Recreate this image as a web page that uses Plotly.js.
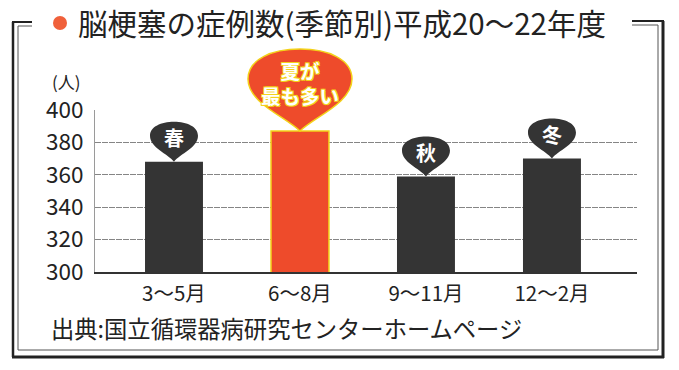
<!DOCTYPE html>
<html><head><meta charset="utf-8">
<script src="https://cdn.plot.ly/plotly-3.0.1.min.js"></script>
<style>html,body{margin:0;padding:0;background:#fff}#chart{width:679px;height:370px}</style>
</head><body><div id="chart"></div>
<script>
const categories = ['3～5月', '6～8月', '9～11月', '12～2月'];
const cases = [368, 387, 359, 370];
const seasons = ['春', '夏', '秋', '冬'];
const yTicks = [300, 320, 340, 360, 380, 400];
const titleText = '脳梗塞の症例数(季節別)平成20～22年度';
const unitLabel = '(人)';
const sourceText = '出典:国立循環器病研究センターホームページ';
const highlightText = '夏が<br>最も多い';

const FONT = '"Noto Sans CJK JP", "Noto Sans", sans-serif';
const DARK = '#343434', ORANGE = '#ee4b2b', YELLOW = '#f3d21a';
const L = 95, R = 637, T = 110, B = 272;
const X_RANGE = [-0.627, 3.675], Y_RANGE = [300, 400];
const px = x => (x - L) / (R - L);
const py = y => (B - y) / (B - T);
const xFrac = i => (i - X_RANGE[0]) / (X_RANGE[1] - X_RANGE[0]);
const yFrac = v => (v - Y_RANGE[0]) / (Y_RANGE[1] - Y_RANGE[0]);

const hi = cases.indexOf(Math.max(...cases));
const barColors = cases.map((v, i) => i === hi ? ORANGE : DARK);

const shapes = [];
function fl(x0, y0, x1, y1, w, c) {
  shapes.push({type: 'line', xref: 'paper', yref: 'paper', x0: px(x0), y0: py(y0), x1: px(x1), y1: py(y1),
    line: {color: c || '#222', width: w}});
}
// frame
fl(13, 22, 13, 357, 2.5); fl(18, 26, 18, 350, 1, '#555');
fl(12, 22, 32, 22, 2); fl(18, 26, 32, 26, 1, '#555');
fl(632, 21, 664, 21, 2); fl(632, 25, 658, 25, 1, '#555');
fl(663, 21, 663, 358, 3); fl(658, 25, 658, 350, 1, '#555');
fl(18, 350, 658, 350, 1, '#555'); fl(12, 357, 664, 357, 3);
// title dot
shapes.push({type: 'circle', xref: 'paper', yref: 'paper', x0: px(53), x1: px(67), y0: py(16), y1: py(30),
  fillcolor: '#f0603a', line: {width: 0}});

// bubbles (anchored at each bar top, drawn in pixels)
const smallPath = 'M0,0 C-6,8 -24,14 -24,26 C-24,35 -13,40 0,40 C13,40 24,35 24,26 C24,14 6,8 0,0 Z';
const bigPath = 'M0,0 C-14,14 -52,28 -52,52 C-52,72 -28,82 0,82 C28,82 52,72 52,52 C52,28 14,14 0,0 Z';
categories.forEach((c, i) => {
  shapes.push({type: 'path', xref: 'paper', yref: 'paper', xsizemode: 'pixel', ysizemode: 'pixel',
    xanchor: xFrac(i), yanchor: yFrac(cases[i]), path: i === hi ? bigPath : smallPath,
    fillcolor: i === hi ? ORANGE : DARK, line: {color: i === hi ? YELLOW : DARK, width: i === hi ? 1.5 : 0}, layer: 'above'});
});

const annotations = [];
const glow = `1px 1px 0 ${YELLOW}, -1px -1px 0 ${YELLOW}, 1px -1px 0 ${YELLOW}, -1px 1px 0 ${YELLOW}`;
categories.forEach((c, i) => {
  if (i === hi) {
    annotations.push({x: i, y: cases[i], xref: 'x', yref: 'y', text: '<b>' + highlightText + '</b>', showarrow: false,
      yshift: 48, font: {family: FONT, size: 19.5, color: '#fff', shadow: glow}});
  } else {
    annotations.push({x: i, y: cases[i], xref: 'x', yref: 'y', text: '<b>' + seasons[i] + '</b>', showarrow: false,
      yshift: 24, font: {family: FONT, size: 20, color: '#fff'}});
  }
});
annotations.push({xref: 'paper', yref: 'paper', x: px(76), y: py(22), xanchor: 'left', yanchor: 'middle',
  text: titleText, showarrow: false, font: {family: FONT, size: 29.5, color: '#222'}});
annotations.push({xref: 'paper', yref: 'paper', x: px(50), y: py(81), xanchor: 'left', yanchor: 'middle',
  text: unitLabel, showarrow: false, font: {family: FONT, size: 17, color: '#222'}});
annotations.push({xref: 'paper', yref: 'paper', x: px(49), y: py(328), xanchor: 'left', yanchor: 'middle',
  text: sourceText, showarrow: false, font: {family: FONT, size: 23.3, color: '#222'}});

const trace = {
  type: 'bar', x: categories, y: cases, width: 0.46,
  marker: {color: barColors, line: {color: cases.map((v, i) => i === hi ? YELLOW : DARK), width: cases.map((v, i) => i === hi ? 1.5 : 0)}},
  hoverinfo: 'skip', cliponaxis: false
};

const layout = {
  width: 679, height: 370,
  margin: {l: L, r: 679 - R, t: T, b: 370 - B, pad: 0},
  paper_bgcolor: '#fff', plot_bgcolor: '#fff',
  showlegend: false,
  xaxis: {type: 'category', range: X_RANGE, showgrid: false, zeroline: false,
    showline: true, linecolor: '#333', linewidth: 2, ticks: '', ticklabelstandoff: 2,
    tickfont: {family: FONT, size: 20.5, color: '#222'}, fixedrange: true},
  yaxis: {range: Y_RANGE, tickvals: yTicks, ticktext: yTicks.map(String), showgrid: true,
    gridcolor: '#858585', gridwidth: 1, griddash: '6px,1px', zeroline: false,
    showline: true, linecolor: '#9a9a9a', linewidth: 1, ticks: '', ticklabelstandoff: 6,
    tickfont: {family: FONT, size: 22.5, color: '#222'}, fixedrange: true},
  shapes: shapes, annotations: annotations
};

Plotly.newPlot('chart', [trace], layout, {staticPlot: true, displayModeBar: false});
</script>
</body></html>
